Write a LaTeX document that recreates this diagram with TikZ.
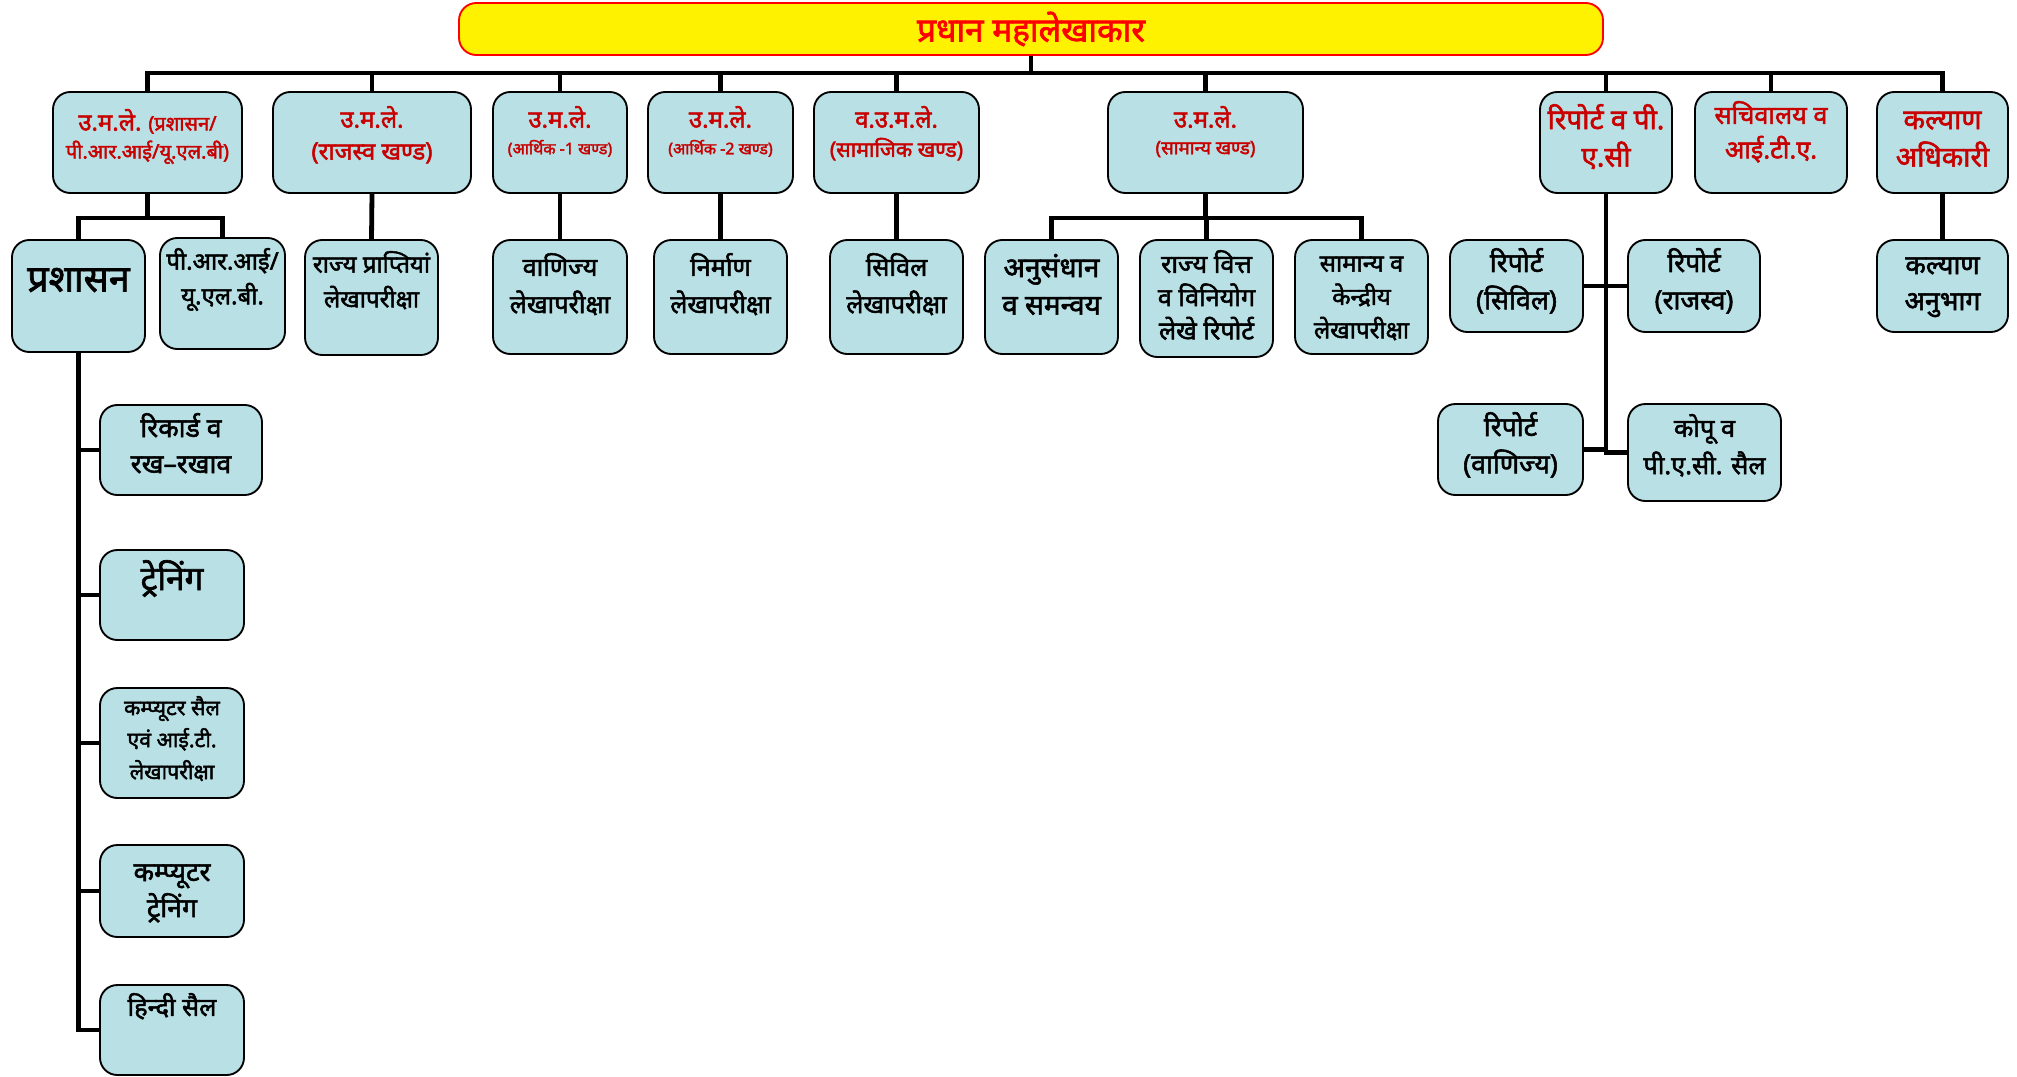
\documentclass[tikz,border=0pt]{standalone}
\usepackage{fontspec}
\newfontfamily\hindi[Script=Devanagari,FakeBold=2]{Noto Sans}
\definecolor{boxblue}{RGB}{185,224,229}
\definecolor{headred}{RGB}{200,0,0}
\newcommand{\fs}[2]{\fontsize{#1}{#2}\selectfont}
\newlength{\unitpx}
\setlength{\unitpx}{0.75pt}

\begin{document}
\begin{tikzpicture}[x=0.75pt,y=-0.75pt,
	box/.style={draw,line width=1.4pt,rounded corners=13pt,fill=boxblue,inner sep=1pt,font=\hindi},
	head/.style={box,text=headred},
	fnt/.style 2 args={font=\hindi\fs{#1}{#2}},
	% width, height, top padding (all in pixels)
	boxsize/.style n args={3}{minimum width=#1*0.75pt,minimum height=#2*0.75pt,
		execute at begin node={\begin{minipage}[c][\dimexpr#2\unitpx-#3\unitpx-#3\unitpx\relax][t]{\dimexpr#1\unitpx-10\unitpx\relax}\centering\rule{0pt}{0.9em}},
		execute at end node={\end{minipage}}},
	conn/.style={line width=3.6pt}]

	\useasboundingbox (0,0) rectangle (2017,1077);

	\node[head,minimum width=858pt,minimum height=39pt,draw=red,fill=yellow,text=red,fnt={25}{30}] (pag) at (1031,29) {प्रधान महालेखाकार};

	% first level
	\node[head,boxsize={189}{101}{17},fnt={15}{21}] (admin) at (147.5,142.5) {{\fs{18}{21}उ.म.ले.} (प्रशासन/\\पी.आर.आई/यू.एल.बी)};
	\node[head,boxsize={198}{101}{14},fnt={18}{24}] (revenue) at (372,142.5) {उ.म.ले.\\(राजस्व खण्ड)};
	\node[head,boxsize={134}{101}{14},fnt={18}{20}] (econ1) at (560,142.5) {उ.म.ले.\\\fs{12}{19}(आर्थिक -1 खण्ड)};
	\node[head,boxsize={145}{101}{14},fnt={18}{20}] (econ2) at (720.5,142.5) {उ.म.ले.\\\fs{12}{19}(आर्थिक -2 खण्ड)};
	\node[head,boxsize={165}{101}{14},fnt={18}{22}] (social) at (896.5,142.5) {व.उ.म.ले.\\\fs{16}{22}(सामाजिक खण्ड)};
	\node[head,boxsize={195}{101}{14},fnt={18}{20}] (general) at (1205.5,142.5) {उ.म.ले.\\\fs{14}{19}(सामान्य खण्ड)};
	\node[head,boxsize={132}{101}{12},fnt={21}{28}] (report) at (1606,142.5) {रिपोर्ट व पी.\\ए.सी};
	\node[head,boxsize={152}{101}{9},fnt={19}{26}] (secretariat) at (1771,142.5) {सचिवालय व\\आई.टी.ए.};
	\node[head,boxsize={131}{101}{12},fnt={21}{28}] (welfare) at (1942.5,142.5) {कल्याण\\अधिकारी};

	% second level
	\node[box,boxsize={133}{112}{18},fnt={28}{32}] (prashasan) at (78.5,296) {प्रशासन};
	\node[box,boxsize={125}{111}{10},fnt={18}{26}] (pri) at (222.5,293.5) {पी.आर.आई/\\यू.एल.बी.};
	\node[box,boxsize={133}{115}{11},fnt={18}{26}] (statereceipts) at (371.5,297.5) {राज्य प्राप्तियां\\लेखापरीक्षा};
	\node[box,boxsize={134}{114}{13},fnt={19}{28}] (commercial) at (560,297) {वाणिज्य\\लेखापरीक्षा};
	\node[box,boxsize={133}{114}{13},fnt={19}{28}] (works) at (720.5,297) {निर्माण\\लेखापरीक्षा};
	\node[box,boxsize={133}{114}{13},fnt={19}{28}] (civil) at (896.5,297) {सिविल\\लेखापरीक्षा};
	\node[box,boxsize={133}{114}{12},fnt={21}{28}] (research) at (1051.5,297) {अनुसंधान\\व समन्वय};
	\node[box,boxsize={133}{117}{10},fnt={19}{25}] (finance) at (1206.5,298.5) {राज्य वित्त\\व विनियोग\\लेखे रिपोर्ट};
	\node[box,boxsize={133}{114}{10},fnt={18}{25}] (central) at (1361.5,297) {सामान्य व\\केन्द्रीय\\लेखापरीक्षा};
	\node[box,boxsize={133}{92}{8},fnt={20}{28}] (repcivil) at (1516.5,286) {रिपोर्ट\\(सिविल)};
	\node[box,boxsize={132}{92}{8},fnt={20}{28}] (reprevenue) at (1694,286) {रिपोर्ट\\(राजस्व)};
	\node[box,boxsize={131}{92}{10},fnt={20}{27}] (welfaresec) at (1942.5,286) {कल्याण\\अनुभाग};
	\node[box,boxsize={145}{91}{8},fnt={20}{28}] (repcommercial) at (1510.5,449.5) {रिपोर्ट\\(वाणिज्य)};
	\node[box,boxsize={153}{97}{10},fnt={19}{28}] (copu) at (1704.5,452.5) {कोपू व\\पी.ए.सी. सैल};

	% admin column
	\node[box,boxsize={162}{90}{8},fnt={20}{27}] (records) at (181,450) {रिकार्ड व\\रख–रखाव};
	\node[box,boxsize={144}{90}{10},fnt={25}{30}] (training) at (172,595) {ट्रेनिंग};
	\node[box,boxsize={144}{110}{8},fnt={16}{24}] (compcell) at (172,743) {कम्प्यूटर सैल\\एवं आई.टी.\\लेखापरीक्षा};
	\node[box,boxsize={144}{92}{12},fnt={20}{27}] (comptraining) at (172,891) {कम्प्यूटर\\ट्रेनिंग};
	\node[box,boxsize={144}{90}{8},fnt={19}{24}] (hindicell) at (172,1030) {हिन्दी सैल};

	% connectors
	\foreach \n in {admin,revenue,econ1,econ2,social,general,report,secretariat,welfare}
		\draw[conn] (pag.south) -- +(0,17) -| (\n.north);
	\foreach \n in {prashasan,pri}
		\draw[conn] (admin.south) -- +(0,24) -| (\n.north);
	\foreach \n in {research,finance,central}
		\draw[conn] (general.south) -- +(0,24) -| (\n.north);
	\draw[conn] (revenue.south) -- (statereceipts.north);
	\draw[conn] (econ1.south) -- (commercial.north);
	\draw[conn] (econ2.south) -- (works.north);
	\draw[conn] (social.south) -- (civil.north);
	\draw[conn] (welfare.south) -- (welfaresec.north);
	\draw[conn] (report.south) |- (repcivil.east);
	\draw[conn] (report.south) |- (reprevenue.west);
	\draw[conn] (report.south) |- (repcommercial.east);
	\draw[conn] (report.south) |- (copu.west);
	\foreach \n in {records,training,compcell,comptraining,hindicell}
		\draw[conn] (prashasan.south) |- (\n.west);

\end{tikzpicture}
\end{document}
